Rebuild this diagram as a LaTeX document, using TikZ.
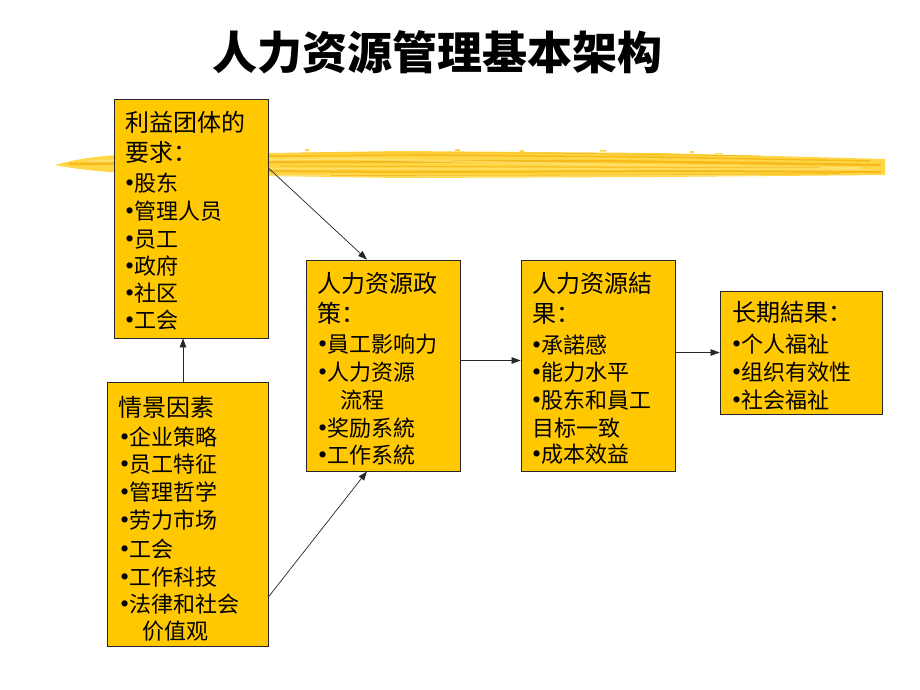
\documentclass[tikz,border=0pt]{standalone}
\usepackage{fontspec}
\setmainfont{Noto Sans CJK SC}
\newfontfamily\bulf{Liberation Serif}
\usetikzlibrary{arrows.meta}
\definecolor{boxfill}{RGB}{255,200,0}
\definecolor{brushA}{RGB}{255,214,70}
\definecolor{brushB}{RGB}{242,168,0}
\definecolor{brushC}{RGB}{255,232,130}
\newcommand\bl{{\fontsize{26}{28}\bulf •}}
\tikzset{
  box/.style={draw=black!85, line width=0.8pt, fill=boxfill, inner sep=0pt},
  hd/.style={anchor=west, inner sep=0pt, yshift=-5pt, font=\fontsize{24}{28}\selectfont, text height=0.88em, text depth=0.12em},
  it/.style={anchor=west, inner sep=0pt, yshift=-5pt, font=\fontsize{22}{28}\selectfont, text height=0.88em, text depth=0.12em},
  arr/.style={draw=black!85, line width=0.7pt, -{Triangle[length=9pt,width=6.5pt]}},
  streak/.style={line cap=round, opacity=0.6}
}
\begin{document}
\begin{tikzpicture}[x=1pt,y=-1pt]
\useasboundingbox (0,0) rectangle (920,690);
\fill[white] (0,0) rectangle (920,690);
% brush stroke
\fill[brushA] (55,165) .. controls (80,158) and (110,154) .. (140,155) -- (400,151) -- (660,153) -- (885,159) -- (885,175) -- (660,177) -- (400,178) -- (140,174) .. controls (100,172) and (75,169) .. (55,165) -- cycle;
\draw[streak, brushB, line width=2.5pt] (70,164) -- (300,162) -- (600,161) -- (880,165);
\draw[streak, brushB, line width=2pt] (120,170) -- (400,172) -- (700,171) -- (880,172);
\draw[streak, brushB, line width=1.5pt] (150,157) -- (420,155) -- (650,157) -- (870,161);
\draw[streak, brushC, line width=2pt] (90,161) -- (350,159) -- (620,165) -- (860,168);
\draw[streak, brushC, line width=1.5pt] (200,175) -- (500,176) -- (760,175);
\draw[streak, brushB, line width=1pt] (280,166) -- (560,167) -- (820,167);
\draw[streak, brushB, line width=0.8pt] (300,153) -- (540,153) -- (760,156);
\draw[streak, brushC, line width=1pt] (260,168.5) -- (600,169) -- (870,169.5);
\draw[streak, brushB, line width=0.8pt] (330,175.5) -- (620,175) -- (840,173.5);
\fill[brushA] (305,149) rectangle (309,151) (455,149) rectangle (460,151) (520,150) rectangle (524,152) (690,151) rectangle (694,153) (715,153) rectangle (722,154) (600,150) rectangle (606,151.5);
% title
\node[font=\fontsize{45}{50}\selectfont\bfseries] (title) at (437,52) {人力资源管理基本架构};
% boxes
\node[box, minimum width=154pt, minimum height=239pt] (b1) at (191,218.5) {};
\node[box, minimum width=161pt, minimum height=264pt] (b2) at (187.5,514) {};
\node[box, minimum width=154pt, minimum height=211pt] (b3) at (383,365.5) {};
\node[box, minimum width=154pt, minimum height=211pt] (b4) at (598,365.5) {};
\node[box, minimum width=162pt, minimum height=123pt] (b5) at (801,352.5) {};
% box 1 text
\node[hd] (t11) at (125,123) {利益团体的};
\node[hd] (t12) at (125,153) {要求：};
\foreach \y/\t [count=\i] in {183/股东,211/管理人员,239/员工,266/政府,293/社区,320/工会}
  \node[it] (t1i\i) at (125,\y) {\bl\t};
% box 2 text
\node[hd] (t21) at (118,408) {情景因素};
\foreach \y/\t [count=\i] in {437/企业策略,464/员工特征,492/管理哲学,520/劳力市场,549/工会,577/工作科技,604/法律和社会}
  \node[it] (t2i\i) at (120,\y) {\bl\t};
\node[it] (t2x) at (142,631) {价值观};
% box 3 text
\node[hd] (t31) at (317,284) {人力资源政};
\node[hd] (t32) at (317,314) {策：};
\node[it] (t33) at (318,344) {\bl 員工影响力};
\node[it] (t34) at (318,372) {\bl 人力资源};
\node[it] (t35) at (340,400) {流程};
\node[it] (t36) at (318,428) {\bl 奖励系統};
\node[it] (t37) at (318,455) {\bl 工作系統};
% box 4 text
\node[hd] (t41) at (532,284) {人力资源結};
\node[hd] (t42) at (532,314) {果：};
\node[it] (t43) at (532,345) {\bl 承諾感};
\node[it] (t44) at (532,372) {\bl 能力水平};
\node[it] (t45) at (532,400) {\bl 股东和員工};
\node[it] (t46) at (532,428) {目标一致};
\node[it] (t47) at (532,454) {\bl 成本效益};
% box 5 text
\node[hd] (t51) at (732,313) {长期結果：};
\node[it] (t52) at (732,344) {\bl 个人福祉};
\node[it] (t53) at (732,372) {\bl 组织有效性};
\node[it] (t54) at (732,400) {\bl 社会福祉};
% connectors
\draw[arr] ([yshift=50.5pt]b1.east) -- ([xshift=-16pt]b3.north);
\draw[arr] ([yshift=-83pt]b2.east) -- ([xshift=-16pt]b3.south);
\draw[arr] ([xshift=-4.5pt]b2.north) -- ([xshift=-8pt]b1.south);
\draw[arr] ([yshift=5pt]b3.east) -- ([yshift=5pt]b4.west);
\draw[arr] (b4.east |- b5.west) -- (b5.west);
\end{tikzpicture}
\end{document}
